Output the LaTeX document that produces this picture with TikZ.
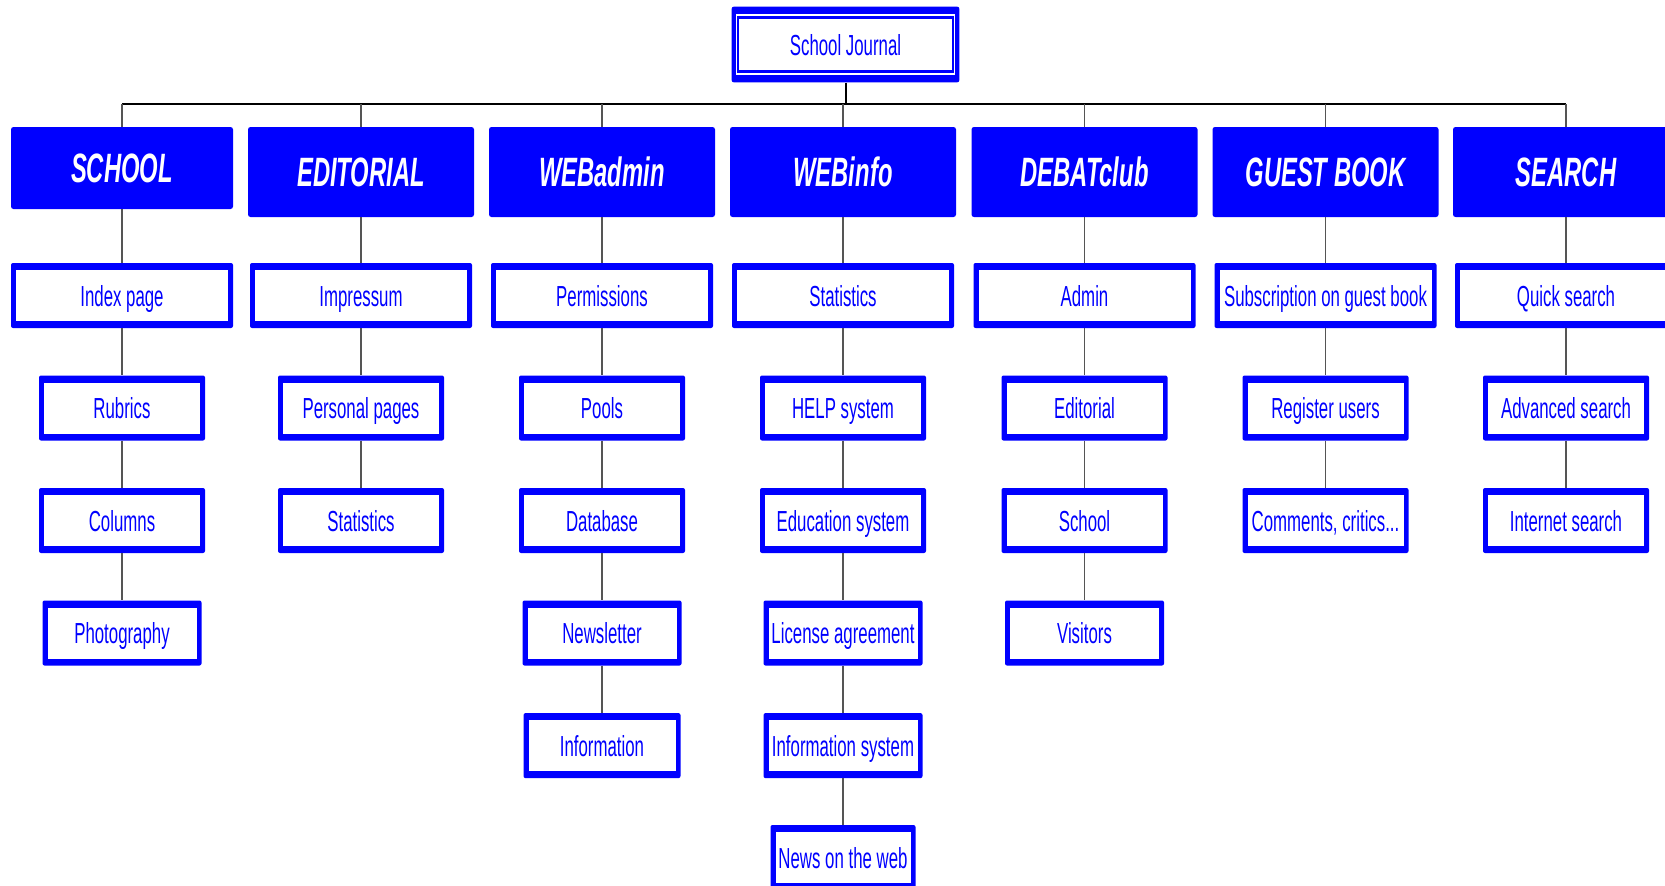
\documentclass[tikz,border=0pt]{standalone}
\usepackage{fontspec}
\newfontfamily\nfont[FakeStretch=0.58]{Liberation Sans}
\definecolor{pblue}{RGB}{0,0,255}
\definecolor{conncol}{RGB}{85,85,85}
\begin{document}
\begin{tikzpicture}[x=1pt,y=-1pt,
  lbox/.style={fill=pblue, rounded corners=2pt, inner sep=0pt, minimum height=65pt,
    text=pblue, font=\nfont\fontsize{29}{29}\selectfont, text height=21pt, text depth=0pt,
    path picture={\fill[white,sharp corners] ([xshift=5pt,yshift=-7pt]path picture bounding box.north west) rectangle ([xshift=-5pt,yshift=7pt]path picture bounding box.south east);}},
  w222/.style={minimum width=222pt},
  w166/.style={minimum width=166pt},
  w159/.style={minimum width=159pt},
  w157/.style={minimum width=157pt},
  w145/.style={minimum width=145pt},
  hdr/.style={fill=pblue, rounded corners=2.5pt, inner sep=0pt, minimum width=226pt, minimum height=90pt,
    text=white, font=\nfont\bfseries\itshape\fontsize{41}{41}\selectfont, text height=29pt, text depth=0pt},
  topbox/.style={fill=pblue, rounded corners=2pt, inner sep=0pt, minimum width=227.6pt, minimum height=75.6pt,
    text=pblue, font=\nfont\fontsize{29}{29}\selectfont, text height=21pt, text depth=0pt,
    path picture={
      \fill[white,sharp corners] ([xshift=4pt,yshift=-7pt]path picture bounding box.north west) rectangle ([xshift=-4pt,yshift=7pt]path picture bounding box.south east);
      \fill[pblue,sharp corners] ([xshift=5.6pt,yshift=-9.7pt]path picture bounding box.north west) rectangle ([xshift=-5.6pt,yshift=9.7pt]path picture bounding box.south east);
      \fill[white,sharp corners] ([xshift=7.3pt,yshift=-12pt]path picture bounding box.north west) rectangle ([xshift=-7.3pt,yshift=12pt]path picture bounding box.south east);}},
  conn/.style={draw=conncol, line width=1.4pt},
  busline/.style={draw=black, line width=2pt}]
\useasboundingbox (0,0) rectangle (1665,886);
\clip (0,0) rectangle (1665,886);

% top
\node[topbox] (top) at (845.5,44.5) {School Journal};
\coordinate (bus) at (845.5,104.3);

% headers
\node[hdr, minimum width=222pt, minimum height=82pt] (h1) at (122,168) {SCHOOL};
\node[hdr] (h2) at (361,172) {EDITORIAL};
\node[hdr] (h3) at (602,172) {WEBadmin};
\node[hdr] (h4) at (843,172) {WEBinfo};
\node[hdr] (h5) at (1084.5,172) {DEBATclub};
\node[hdr] (h6) at (1325.5,172) {GUEST BOOK};
\node[hdr] (h7) at (1566,172) {SEARCH};

% column 1
\node[lbox,w222] (a1) at (122,295.5) {Index page};
\node[lbox,w166] (a2) at (122,408) {Rubrics};
\node[lbox,w166] (a3) at (122,520.5) {Columns};
\node[lbox,w159] (a4) at (122,633) {Photography};
% column 2
\node[lbox,w222] (b1) at (361,295.5) {Impressum};
\node[lbox,w166] (b2) at (361,408) {Personal pages};
\node[lbox,w166] (b3) at (361,520.5) {Statistics};
% column 3
\node[lbox,w222] (c1) at (602,295.5) {Permissions};
\node[lbox,w166] (c2) at (602,408) {Pools};
\node[lbox,w166] (c3) at (602,520.5) {Database};
\node[lbox,w159] (c4) at (602,633) {Newsletter};
\node[lbox,w157] (c5) at (602,745.6) {Information};
% column 4
\node[lbox,w222] (d1) at (843,295.5) {Statistics};
\node[lbox,w166] (d2) at (843,408) {HELP system};
\node[lbox,w166] (d3) at (843,520.5) {Education system};
\node[lbox,w159] (d4) at (843,633) {License agreement};
\node[lbox,w159] (d5) at (843,745.6) {Information system};
\node[lbox,w145] (d6) at (843,857.5) {News on the web};
% column 5
\node[lbox,w222] (e1) at (1084.5,295.5) {Admin};
\node[lbox,w166] (e2) at (1084.5,408) {Editorial};
\node[lbox,w166] (e3) at (1084.5,520.5) {School};
\node[lbox,w159] (e4) at (1084.5,633) {Visitors};
% column 6
\node[lbox,w222] (f1) at (1325.5,295.5) {Subscription on guest book};
\node[lbox,w166] (f2) at (1325.5,408) {Register users};
\node[lbox,w166] (f3) at (1325.5,520.5) {Comments, critics...};
% column 7
\node[lbox,w222] (g1) at (1566,295.5) {Quick search};
\node[lbox,w166] (g2) at (1566,408) {Advanced search};
\node[lbox,w166] (g3) at (1566,520.5) {Internet search};

% bus
\draw[busline] (top.south) -- (bus);
\draw[busline] (h1.north |- bus) -- (h7.north |- bus);
\foreach \h in {h1,h2,h3,h4,h5,h6,h7}
  \draw[conn] (\h.north |- bus) -- (\h.north);

% column connectors
\draw[conn] (h1.south) -- (a1.north) (a1.south) -- (a2.north) (a2.south) -- (a3.north) (a3.south) -- (a4.north);
\draw[conn] (h2.south) -- (b1.north) (b1.south) -- (b2.north) (b2.south) -- (b3.north);
\draw[conn] (h3.south) -- (c1.north) (c1.south) -- (c2.north) (c2.south) -- (c3.north) (c3.south) -- (c4.north) (c4.south) -- (c5.north);
\draw[conn] (h4.south) -- (d1.north) (d1.south) -- (d2.north) (d2.south) -- (d3.north) (d3.south) -- (d4.north) (d4.south) -- (d5.north) (d5.south) -- (d6.north);
\draw[conn] (h5.south) -- (e1.north) (e1.south) -- (e2.north) (e2.south) -- (e3.north) (e3.south) -- (e4.north);
\draw[conn] (h6.south) -- (f1.north) (f1.south) -- (f2.north) (f2.south) -- (f3.north);
\draw[conn] (h7.south) -- (g1.north) (g1.south) -- (g2.north) (g2.south) -- (g3.north);
\end{tikzpicture}
\end{document}
